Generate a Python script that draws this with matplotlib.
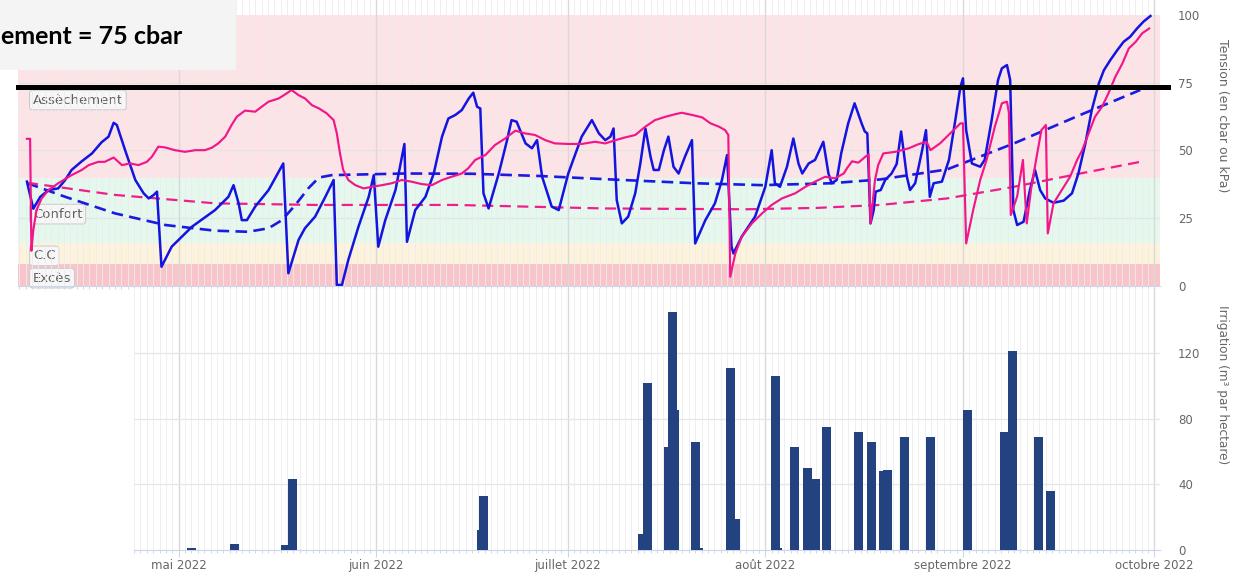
import matplotlib
matplotlib.use("Agg")
import matplotlib.dates as mdates
import matplotlib.pyplot as plt
import numpy as np
from matplotlib.patches import Rectangle

plt.rcParams["font.family"] = ["DejaVu Sans"]

START = np.datetime64("2022-05-01")

MONTH_STARTS = ["2022-05-01", "2022-06-01", "2022-07-01",
                "2022-08-01", "2022-09-01", "2022-10-01"]
MONTH_LABELS = ["mai 2022", "juin 2022", "juillet 2022",
                "août 2022", "septembre 2022", "octobre 2022"]

# soil tension, (days after 1 May 2022, cbar)
blue_sensor = [
    (-23.8, 38.5), (-22.8, 28.5), (-21.7, 32.9), (-20.4, 35.4), (-18.9, 36.0),
    (-17.8, 39.1), (-16.8, 42.8), (-15.2, 46.0), (-13.6, 48.9), (-12.1, 53.0),
    (-11.0, 55.1), (-10.2, 60.2), (-9.7, 59.4), (-8.4, 50.1), (-6.8, 39.1),
    (-5.5, 34.2), (-4.7, 32.3), (-3.9, 33.6), (-3.4, 34.8), (-2.7, 7.1),
    (-1.1, 14.5), (2.1, 21.9), (5.7, 28.0), (7.8, 32.9), (8.6, 37.2),
    (9.4, 30.5), (9.9, 24.3), (10.7, 24.3), (12.0, 29.3), (14.1, 35.4),
    (16.4, 45.2), (17.2, 4.7), (18.8, 17.0), (19.8, 21.3), (21.4, 25.6),
    (23.0, 32.9), (24.3, 39.1), (24.8, 0.4), (25.6, 0.4), (26.6, 9.6),
    (28.2, 21.9), (29.8, 32.9), (30.6, 40.9), (31.3, 14.5), (32.4, 24.3),
    (34.0, 35.4), (35.4, 52.4), (35.8, 16.3), (37.1, 28.0), (38.7, 32.9),
    (40.0, 41.5), (41.3, 55.1), (42.3, 61.8), (43.4, 63.1), (44.4, 64.9),
    (45.5, 69.2), (46.2, 71.3), (46.8, 66.1), (47.3, 65.5), (47.8, 34.2),
    (48.6, 28.6), (50.2, 41.5), (51.5, 53.8), (52.2, 61.2), (53.0, 60.6),
    (54.4, 52.6), (55.4, 50.8), (56.2, 53.8), (57.0, 40.3), (58.5, 29.3),
    (59.6, 28.0), (61.1, 41.5), (63.2, 55.1), (64.8, 61.2), (65.9, 56.3),
    (66.9, 53.8), (67.7, 55.1), (68.2, 58.1), (68.7, 31.7), (69.5, 23.1),
    (70.5, 25.6), (71.6, 34.2), (72.4, 45.2), (73.2, 58.1), (74.0, 47.7),
    (74.5, 42.8), (75.3, 42.8), (76.1, 50.1), (76.8, 55.1), (77.6, 44.0),
    (78.4, 41.5), (79.4, 47.7), (80.5, 53.8), (81.0, 15.7), (82.6, 24.3),
    (84.1, 30.5), (85.2, 39.1), (86.0, 48.3), (86.7, 14.5), (87.0, 12.0),
    (88.3, 18.2), (90.4, 25.6), (92.0, 36.6), (93.0, 50.1), (93.5, 37.9),
    (94.3, 36.6), (95.4, 44.0), (96.4, 54.4), (97.2, 45.2), (97.8, 41.5),
    (98.8, 45.2), (99.8, 46.5), (101.1, 53.2), (101.9, 41.5), (102.4, 37.9),
    (103.2, 39.1), (103.9, 48.9), (105.0, 60.0), (106.0, 67.4), (107.1, 60.0),
    (107.6, 57.0), (108.0, 56.3), (108.5, 23.1), (109.0, 28.0), (109.3, 34.8),
    (110.1, 35.4), (110.8, 39.1), (111.8, 41.5), (112.6, 45.0), (113.3, 57.0),
    (114.2, 40.3), (114.7, 35.4), (115.5, 37.9), (116.6, 50.1), (117.2, 57.5),
    (117.8, 32.9), (118.4, 37.9), (119.7, 38.5), (120.8, 46.5), (121.8, 61.2),
    (122.6, 73.5), (123.0, 76.6), (123.5, 57.5), (124.4, 45.2), (125.7, 44.0),
    (126.4, 46.5), (127.5, 61.2), (128.5, 76.0), (129.1, 80.3), (129.9, 81.5),
    (130.4, 76.0), (130.9, 28.0), (131.5, 22.5), (132.5, 23.7), (133.5, 35.4),
    (134.3, 42.8), (135.1, 35.4), (135.9, 32.3), (137.2, 30.7), (138.8, 31.5),
    (140.1, 34.2), (141.1, 41.5), (142.2, 52.6), (143.2, 64.9), (144.3, 74.7),
    (145.1, 79.6), (146.1, 83.3), (147.2, 87.0), (148.2, 90.1), (149.2, 91.9),
    (150.3, 95.0), (151.3, 97.5), (152.4, 99.6),
]

pink_sensor = [
    (-23.8, 54.3), (-23.3, 54.3), (-23.1, 13.0), (-22.8, 20.6), (-22.3, 28.0),
    (-21.5, 32.3), (-20.4, 35.4), (-18.9, 37.9), (-16.8, 40.9), (-15.2, 42.8),
    (-14.1, 44.6), (-12.6, 45.8), (-11.6, 45.8), (-10.2, 47.4), (-8.9, 44.6),
    (-7.6, 45.2), (-6.3, 44.6), (-5.0, 45.8), (-4.2, 47.7), (-3.2, 51.4),
    (-2.1, 51.1), (-0.6, 50.1), (1.0, 49.5), (2.6, 50.1), (4.1, 50.1),
    (5.2, 51.0), (6.2, 52.6), (7.3, 55.1), (8.3, 59.4), (9.1, 62.4),
    (10.4, 64.7), (12.0, 64.3), (13.0, 66.1), (14.1, 68.0), (15.7, 69.2),
    (16.9, 71.0), (17.7, 72.3), (18.8, 70.4), (19.8, 69.2), (20.9, 66.7),
    (22.0, 65.5), (23.2, 63.7), (24.3, 61.2), (24.8, 56.3), (25.3, 48.9),
    (25.8, 42.8), (26.6, 39.1), (27.7, 37.2), (29.0, 36.0), (30.3, 36.6),
    (31.9, 37.2), (33.4, 37.9), (35.0, 39.1), (36.5, 38.5), (38.1, 37.6),
    (39.7, 37.2), (41.3, 39.1), (42.8, 40.3), (44.4, 41.5), (45.4, 43.4),
    (46.5, 46.5), (48.1, 48.3), (49.6, 52.0), (51.2, 54.4), (52.8, 57.3),
    (54.3, 56.3), (55.9, 55.7), (57.5, 53.8), (59.0, 52.6), (61.1, 52.4),
    (63.2, 52.4), (65.3, 53.2), (66.9, 52.6), (68.5, 53.8), (70.0, 54.8),
    (71.6, 55.7), (73.2, 58.8), (74.7, 61.2), (76.3, 62.4), (77.9, 63.4),
    (78.9, 63.9), (80.5, 63.1), (82.1, 62.2), (83.4, 60.0), (84.7, 58.8),
    (85.7, 57.5), (86.2, 55.7), (86.5, 3.4), (87.3, 12.0), (88.3, 18.2),
    (89.9, 23.1), (91.5, 26.8), (93.0, 29.9), (94.6, 32.3), (96.7, 34.2),
    (98.3, 36.6), (99.8, 38.5), (101.4, 40.3), (102.9, 39.7), (104.3, 41.5),
    (104.8, 43.4), (105.6, 46.0), (106.6, 45.5), (107.7, 47.7), (108.2, 48.5),
    (108.5, 23.1), (109.2, 39.1), (109.7, 44.6), (110.5, 48.9), (112.4, 49.5),
    (114.5, 50.8), (116.0, 52.3), (117.3, 53.2), (117.9, 50.1), (119.4, 52.6),
    (121.0, 56.3), (122.6, 60.0), (123.0, 60.0), (123.5, 15.7), (124.6, 28.0),
    (125.7, 39.1), (126.7, 46.5), (128.0, 58.8), (129.1, 67.4), (129.9, 68.0),
    (130.2, 64.0), (130.5, 26.2), (131.5, 33.0), (132.4, 46.5), (133.0, 23.1),
    (133.7, 36.0), (134.5, 47.0), (135.3, 57.5), (136.0, 59.4), (136.3, 19.4),
    (137.2, 30.5), (138.5, 35.4), (139.8, 40.3), (140.9, 46.5), (141.7, 50.1),
    (142.7, 56.3), (143.7, 62.4), (144.8, 66.1), (145.8, 71.0), (146.9, 77.2),
    (148.0, 82.1), (149.0, 87.6), (150.1, 90.1), (151.1, 93.2), (152.2, 95.0),
]

blue_trend = [
    (-23.8, 38.0), (-17.8, 32.9), (-10.0, 26.8), (-2.1, 22.5), (5.7, 20.4),
    (10.9, 20.0), (14.1, 21.3), (16.2, 24.3), (18.3, 29.9), (20.4, 36.2),
    (22.0, 40.0), (24.0, 40.9), (35.5, 41.5), (46.0, 41.4), (56.4, 40.6),
    (66.9, 39.4), (81.0, 37.9), (91.5, 37.2), (102.3, 37.9), (110.0, 39.3),
    (120.5, 43.0), (131.0, 52.6), (141.4, 63.1), (150.8, 72.3),
]

pink_trend = [
    (-23.8, 38.1), (-10.0, 33.6), (5.7, 30.5), (21.4, 29.9), (43.4, 29.9),
    (66.9, 28.6), (88.9, 28.3), (100.0, 28.8), (110.0, 29.9), (120.5, 32.3),
    (131.0, 36.6), (141.4, 41.5), (150.8, 45.8),
]

# irrigation, (days after 1 May 2022, m3 / ha)
irrigation = [
    (2.0, 1), (8.8, 3.5), (16.8, 3), (17.9, 43), (47.5, 12), (47.8, 33),
    (72.7, 10), (73.5, 102), (76.85, 63), (77.4, 145), (77.8, 85),
    (81.0, 66), (81.5, 1), (86.6, 111), (87.4, 19), (93.6, 106), (93.9, 1),
    (96.6, 63), (98.6, 50), (99.9, 43), (101.6, 75), (106.6, 72),
    (108.6, 66), (110.5, 48), (111.1, 49), (113.8, 69), (117.9, 69),
    (123.7, 85), (129.5, 72), (130.8, 121), (134.9, 69), (136.7, 36),
]

zone_names = ["Excès", "C.C", "Confort", "Assèchement"]
zone_limits = [0, 8, 16, 40, 100]
zone_label_y = [2.9, 11.1, 26.5, 68.6]
ZONE_COLORS = ["#f8c6ca", "#fdf3dc", "#e4f8ee", "#fde3e5"]

THRESHOLD_LINE = 73.5
# the pasted caption is cropped at the image edge in the source
CAPTION = "ement = 75 cbar"
TENSION_TICKS = [0, 25, 50, 75, 100]
IRRIGATION_TICKS = [0, 40, 80, 120]

W, H = 1234, 573
T0 = mdates.date2num(START)


def to_x(days):
    return T0 + np.asarray(days, dtype=float)


def split(pairs):
    arr = np.array(pairs, dtype=float)
    return to_x(arr[:, 0]), arr[:, 1]


def px_axes(fig, left, top, right, bottom):
    return fig.add_axes([left / W, 1 - bottom / H, (right - left) / W, (bottom - top) / H])


def style_time_axis(ax):
    month_x = mdates.date2num(np.array(MONTH_STARTS, dtype="datetime64[D]"))
    ax.set_xticks(month_x)
    ax.xaxis.set_minor_locator(mdates.DayLocator())
    ax.grid(which="minor", axis="x", color="#ececec", lw=0.6, zorder=1)
    ax.grid(which="major", axis="x", color="#d9d9d9", lw=1.0, zorder=1)
    ax.set_axisbelow(False)
    for side in ("top", "left", "right"):
        ax.spines[side].set_visible(False)
    ax.spines["bottom"].set_color("#ccd6eb")
    ax.tick_params(axis="x", which="minor", length=2.2, width=0.7, color="#ccd6eb")
    ax.tick_params(axis="x", which="major", length=5, width=0.8, color="#ccd6eb")
    ax.yaxis.tick_right()
    ax.tick_params(axis="y", length=0, pad=13, labelsize=8.5, labelcolor="#666666")
    return month_x


fig = plt.figure(figsize=(W / 100, H / 100), dpi=100)

# tension panel
ax = px_axes(fig, 18, 0, 1160, 286)
ax.set_xlim(to_x(-25.2), to_x(153.9))
ax.set_ylim(0, 105.5)
style_time_axis(ax)
ax.tick_params(axis="x", labelbottom=False)
ax.set_yticks(TENSION_TICKS)
for lo, hi, col in zip(zone_limits[:-1], zone_limits[1:], ZONE_COLORS):
    ax.axhspan(lo, hi, color=col, lw=0, zorder=0)
for v in TENSION_TICKS[1:-1]:
    ax.axhline(v, color="#e3e3e3", lw=0.8, zorder=1)
for name, y in zip(zone_names, zone_label_y):
    ax.text(0.013, y, name, transform=ax.get_yaxis_transform(), fontsize=9.5,
            color="#5f5f5f", va="center", ha="left", zorder=2,
            bbox=dict(boxstyle="round,pad=0.25,rounding_size=0.25",
                      fc="#f7f7f7", ec="#cccccc", lw=0.8))

x, y = split(blue_trend)
ax.plot(x, y, color="#1a1ae0", lw=1.9, dashes=(4.4, 2.4), zorder=3)
x, y = split(pink_trend)
ax.plot(x, y, color="#f01e8c", lw=1.6, dashes=(5.0, 2.9), zorder=3)
x, y = split(blue_sensor)
ax.plot(x, y, color="#1414e0", lw=1.8, zorder=4, solid_joinstyle="round")
x, y = split(pink_sensor)
ax.plot(x, y, color="#f2168a", lw=1.55, zorder=5, solid_joinstyle="round")

ax.axhline(THRESHOLD_LINE, xmin=0, xmax=(1168 - 18) / (1160 - 18),
           color="black", lw=3.6, zorder=6, clip_on=False)

# irrigation panel
axb = px_axes(fig, 134, 288, 1160, 550)
axb.set_xlim(to_x(-7.0), to_x(153.9))
axb.set_ylim(0, 159.6)
style_time_axis(axb)
axb.set_xticklabels(MONTH_LABELS)
axb.tick_params(axis="x", which="major", pad=1.5, labelsize=8.5, labelcolor="#666666")
axb.set_yticks(IRRIGATION_TICKS)
axb.grid(axis="y", color="#e6e6e6", lw=0.9)
axb.axhline(160, color="#e6e6e6", lw=0.9)

x, y = split(irrigation)
order = np.argsort(y, kind="stable")
axb.bar(x[order], y[order], width=1.41, color="#22437f", lw=0, zorder=3)

fig.text(1222 / W, 1 - 116 / H, "Tension (en cbar ou kPa)", rotation=270,
         ha="center", va="center", fontsize=9, color="#666666")
fig.text(1222 / W, 1 - 385 / H, "Irrigation (m³ par hectare)", rotation=270,
         ha="center", va="center", fontsize=8.7, color="#666666")

# overlay caption
fig.add_artist(Rectangle((0, 1 - 70 / H), 236 / W, 70 / H, transform=fig.transFigure,
                         fc="#f4f4f4", ec="none", zorder=10))
fig.text(1 / W, 1 - 37 / H, CAPTION, ha="left", va="center",
         fontsize=18, fontweight="bold", family=["Lato", "DejaVu Sans"],
         color="black", zorder=11)

fig.savefig("out.png", dpi=100)
